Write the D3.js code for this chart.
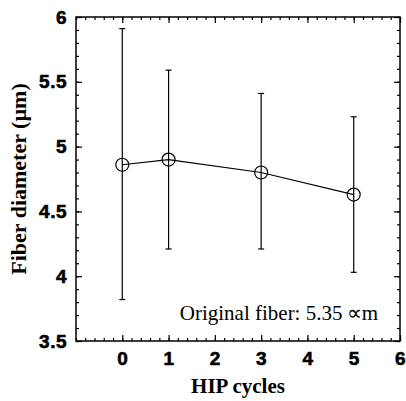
<!DOCTYPE html>
<html>
<head>
<meta charset="utf-8">
<script src="https://cdn.jsdelivr.net/npm/d3@7"></script>
<style>
  body { margin: 0; background: #fff; }
  svg text.lbl { font-family: "Liberation Sans", Arial, sans-serif; font-weight: 700; font-size: 19px; }
</style>
</head>
<body>
<svg width="406" height="401"></svg>
<script>
// data
var cycles = [0, 1, 3, 5],
    diameter = [4.86, 4.90, 4.80, 4.63],
    errUpper = [5.91, 5.59, 5.41, 5.23],
    errLower = [3.82, 4.21, 4.21, 4.03],
    xTicks = [0, 1, 2, 3, 4, 5, 6],
    yTicks = [3.5, 4, 4.5, 5, 5.5, 6];

var svg = d3.select("svg"),
    margin = {top: 17, right: 6, bottom: 60, left: 76},
    width = +svg.attr("width") - margin.left - margin.right,
    height = +svg.attr("height") - margin.top - margin.bottom;

var x = d3.scaleLinear().domain([-1, 6]).range([0, width]),
    y = d3.scaleLinear().domain([3.5, 6]).range([height, 0]);

var g = svg.append("g")
    .attr("transform", "translate(" + margin.left + "," + margin.top + ")");

// minor ticks, all four sides, pointing in
var xMinor = d3.range(-1, 6.001, 0.2),
    yMinor = d3.range(3.5, 6.001, 0.1);

function tickAxis(axis, scale, vals, len, tf) {
  g.append("g")
      .attr("transform", tf)
      .call(axis(scale).tickValues(vals).tickSize(len).tickFormat(""))
      .call(function(s) { s.select(".domain").remove(); });
}
tickAxis(d3.axisTop, x, xMinor, 3, "translate(0," + height + ")");
tickAxis(d3.axisBottom, x, xMinor, 3, "translate(0,0)");
tickAxis(d3.axisRight, y, yMinor, 3, "translate(0,0)");
tickAxis(d3.axisLeft, y, yMinor, 3, "translate(" + width + ",0)");
tickAxis(d3.axisTop, x, xTicks, 6, "translate(0," + height + ")");
tickAxis(d3.axisBottom, x, xTicks, 6, "translate(0,0)");
tickAxis(d3.axisRight, y, yTicks, 6, "translate(0,0)");
tickAxis(d3.axisLeft, y, yTicks, 6, "translate(" + width + ",0)");

// labelled axes
g.append("g")
    .attr("transform", "translate(0," + height + ")")
    .call(d3.axisBottom(x).tickValues(xTicks).tickSize(0).tickPadding(11)
      .tickFormat(d3.format("d")))
    .call(function(s) { s.select(".domain").remove(); });

g.append("g")
    .call(d3.axisLeft(y).tickValues(yTicks).tickSize(0).tickPadding(9)
      .tickFormat(d3.format("")))
    .call(function(s) { s.select(".domain").remove(); });

g.selectAll(".tick line").attr("stroke", "#000").attr("stroke-width", 1.2);
g.selectAll(".tick text")
    .attr("class", "lbl")
    .attr("fill", "#000")
    .attr("stroke", "#000")
    .attr("stroke-width", 0.6)
    .style("letter-spacing", "0.5px");

// frame
g.append("rect")
    .attr("width", width).attr("height", height)
    .attr("fill", "none").attr("stroke", "#000").attr("stroke-width", 1.5);

var pts = cycles.map(function(c, i) {
  return {c: c, v: diameter[i], hi: errUpper[i], lo: errLower[i]};
});

// error bars
var eb = g.selectAll(".err").data(pts).enter().append("g").attr("class", "err")
    .attr("stroke", "#000").attr("stroke-width", 1.2);
eb.append("line")
    .attr("x1", function(d) { return x(d.c); }).attr("x2", function(d) { return x(d.c); })
    .attr("y1", function(d) { return y(d.hi); }).attr("y2", function(d) { return y(d.lo); });
eb.append("line")
    .attr("x1", function(d) { return x(d.c) - 3; }).attr("x2", function(d) { return x(d.c) + 3; })
    .attr("y1", function(d) { return y(d.hi); }).attr("y2", function(d) { return y(d.hi); });
eb.append("line")
    .attr("x1", function(d) { return x(d.c) - 3; }).attr("x2", function(d) { return x(d.c) + 3; })
    .attr("y1", function(d) { return y(d.lo); }).attr("y2", function(d) { return y(d.lo); });

// connecting line
g.append("path")
    .datum(pts)
    .attr("fill", "none").attr("stroke", "#000").attr("stroke-width", 1.2)
    .attr("d", d3.line().x(function(d) { return x(d.c); }).y(function(d) { return y(d.v); }));

g.selectAll(".pt").data(pts).enter().append("circle")
    .attr("cx", function(d) { return x(d.c); })
    .attr("cy", function(d) { return y(d.v); })
    .attr("r", 6.5)
    .attr("fill", "none").attr("stroke", "#000").attr("stroke-width", 1.2);

// titles
svg.append("text")
    .attr("x", margin.left + x(2.5)).attr("y", 393)
    .attr("text-anchor", "middle")
    .style("font-family", "'Liberation Serif', 'Times New Roman', serif")
    .style("font-weight", "bold").style("font-size", "21px")
    .text("HIP cycles");

svg.append("text")
    .attr("transform", "translate(26," + (margin.top + height / 2) + ")rotate(-90)")
    .attr("text-anchor", "middle")
    .style("font-family", "'Liberation Serif', 'Times New Roman', serif")
    .style("font-weight", "bold").style("font-size", "22px")
    .text("Fiber diameter (\u00b5m)");

g.append("text")
    .attr("x", width - 22).attr("y", y(3.5) - 21)
    .attr("text-anchor", "end")
    .style("font-family", "'Liberation Serif', 'Times New Roman', serif")
    .style("font-size", "21px")
    .text("Original fiber: 5.35\u2009\u221dm");
</script>
</body>
</html>
